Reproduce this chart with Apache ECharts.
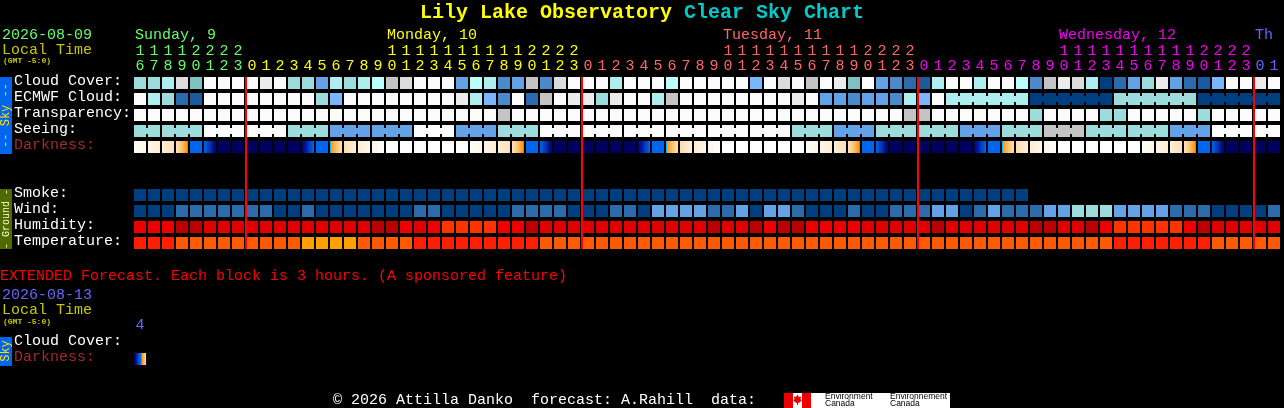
<!DOCTYPE html>
<html><head><meta charset="utf-8">
<style>html,body{margin:0;padding:0;background:#000;overflow:hidden}#main{width:1284px;height:408px}</style>
<script src="https://cdn.jsdelivr.net/npm/echarts@6/dist/echarts.min.js"></script>
</head><body><div id="main"></div>
<script>
/* ---------- data ---------- */
const rowNames = ['Cloud Cover:','ECMWF Cloud:','Transparency:','Seeing:','Darkness:','','','Smoke:','Wind:','Humidity:','Temperature:'];
const hours = [16,17,18,19,20,21,22,23,
  0,1,2,3,4,5,6,7,8,9,10,11,12,13,14,15,16,17,18,19,20,21,22,23,
  0,1,2,3,4,5,6,7,8,9,10,11,12,13,14,15,16,17,18,19,20,21,22,23,
  0,1,2,3,4,5,6,7,8,9,10,11,12,13,14,15,16,17,18,19,20,21,22,23,
  0,1];
const midnightCols = [8,32,56,80];
const cloudCover = [8,8,7,11,9,13,13,13,13,12,13,8,8,4,7,8,7,6,10,11,13,13,
  13,4,6,7,3,4,10,3,11,13,13,13,7,13,13,13,6,13,13,13,13,13,5,13,11,13,10,13,12,9,
  13,4,3,2,1,7,13,13,7,13,13,6,3,10,12,11,7,0,2,4,8,12,4,2,1,5,13,13,12,13];
const ecmwfCloud = [13,7,8,2,1,13,13,13,13,13,13,13,13,8,5,13,13,13,13,13,13,13,
  13,12,7,5,3,13,2,10,13,12,12,8,12,13,13,7,10,13,13,13,13,13,13,13,13,12,13,4,4,3,
  4,4,3,7,5,13,7,7,7,7,7,7,0,0,0,0,0,0,8,8,8,8,8,8,0,0,0,0,0,0];
const transparency = [13,13,13,13,13,13,13,13,13,13,13,13,13,13,13,13,13,13,13,13,13,13,
  13,13,13,13,10,13,13,13,13,13,13,13,13,13,13,13,13,13,13,13,13,13,13,13,13,13,13,13,13,13,
  13,13,13,10,10,13,13,13,13,13,13,13,8,13,13,13,13,8,8,13,13,13,13,13,8,13,13,13,13,13];
const seeing = [8,8,8,8,8,13,13,13,13,13,13,8,8,8,4,4,4,4,4,4,13,13,
  13,4,4,4,8,8,8,13,13,13,13,13,13,13,13,13,13,13,13,13,13,13,13,13,13,8,8,8,4,4,
  4,8,8,8,8,8,8,4,4,4,8,8,8,10,10,10,8,8,8,8,8,8,4,4,4,13,13,13,13,13];
const seeingBlockStarts = [0,2,5,8,11,14,17,20,23,26,29,32,35,38,41,44,47,50,53,56,59,62,65,68,71,74,77,80];
const ecmwfBlockStarts = [58,64,70,76];
const darkStart = [0.1,1,1.7,2.6,6,6,9,9,9,9,9,9,8.6,6,5.2,2.8,1.7,1,0,0,0,0,0,0,
  0.1,1,1.7,2.6,6,6,9,9,9,9,9,9,8.6,6,5.2,2.8,1.7,1,0,0,0,0,0,0,
  0.1,1,1.7,2.6,6,6,9,9,9,9,9,9,8.6,6,5.2,2.8,1.7,1,0,0,0,0,0,0,
  0.1,1,1.7,2.6,6,6,9,9,9,9];
const darkEnd = [1,1.7,2.6,5.2,6,8.6,9,9,9,9,9,9,6,6,2.8,1.7,1,0.1,0,0,0,0,0,0,
  1,1.7,2.6,5.2,6,8.6,9,9,9,9,9,9,6,6,2.8,1.7,1,0.1,0,0,0,0,0,0,
  1,1.7,2.6,5.2,6,8.6,9,9,9,9,9,9,6,6,2.8,1.7,1,0.1,0,0,0,0,0,0,
  1,1.7,2.6,5.2,6,8.6,9,9,9,9];
const smoke = [0,0,0,0,0,0,0,0,0,0,0,0,0,0,0,0,0,0,0,0,0,0,0,0,0,0,0,0,0,0,0,0,
  0,0,0,0,0,0,0,0,0,0,0,0,0,0,0,0,0,0,0,0,0,0,0,0,0,0,0,0,0,0,0,0];
const wind = [0,0,0,2,2,2,2,2,2,2,0,0,2,0,0,0,0,0,0,0,2,2,
  0,0,0,0,0,2,2,2,2,0,0,0,2,2,0,4,4,4,4,2,2,4,0,4,4,2,0,0,0,2,
  0,0,2,2,2,4,4,0,2,4,2,2,2,4,4,8,8,8,4,4,4,4,2,2,2,0,0,0,0,2];
const humidity = [2,2,2,0,0,1,1,1,1,1,1,1,1,1,1,1,1,0,0,2,1,2,
  3,3,3,3,2,2,0,1,1,1,1,1,1,1,1,1,1,1,1,0,1,1,0,2,0,0,2,2,2,2,
  1,1,1,1,1,0,1,1,1,1,1,1,0,0,1,1,0,2,3,3,3,3,3,2,0,1,1,1,1,1];
const temperature = [0,0,0,1,1,1,1,1,1,1,1,1,2,2,2,2,1,1,1,1,0,0,
  0,0,0,0,0,0,0,1,1,1,1,1,1,1,1,1,1,1,1,1,1,1,1,1,1,1,1,1,1,1,
  1,1,1,1,1,1,1,1,1,1,1,1,1,1,1,1,1,1,0,0,0,0,0,0,0,1,1,1,1,1];
const days = ['Sunday, 9','Monday, 10','Tuesday, 11','Wednesday, 12','Th'];
const dayLabelCols = [0,18,42,66,80];
const extHours = [4];
const extRowNames = ['Cloud Cover:','Darkness:'];
const extDarkStart = [9];
const extDarkEnd = [3];

/* ---------- scales ---------- */
const skyPalette = ['#003f7f','#1a5a9e','#2b6bab','#4b8bcb','#63a2e6','#79b6fb','#b9fdfd','#aeeeee','#9cdcdc','#80c0c0','#c4c4c4','#dcdcdc','#ececec','#fbfbfb'];
const humidityPalette = ['#bb0000','#e00000','#ee0000','#ff3300'];
const tempPalette = ['#ff1e00','#ff5a00','#ffa000'];
const darkScale = [[0,[255,255,255]],[1,[255,245,232]],[2,[255,234,205]],[3,[255,218,170]],[4,[255,190,100]],[4.9,[255,154,16]],
  [5,[0,208,255]],[5.5,[10,122,240]],[6,[0,102,238]],[7,[0,64,192]],[8,[0,16,144]],[9,[0,0,96]]];
function darkColor(v){
  for(let k=1;k<darkScale.length;k++){
    if(v<=darkScale[k][0]){
      const [a,ca]=darkScale[k-1],[b,cb]=darkScale[k],t=(v-a)/(b-a);
      return 'rgb('+ca.map((c,n)=>Math.round(c+(cb[n]-c)*t)).join(',')+')';
    }
  }
  return 'rgb(0,0,96)';
}

/* ---------- layout ---------- */
const MONO='"Liberation Mono"';
const GL=133, BAND=14, RH=16, CELL=12, BRIDGE=6;
function dayColor(i){ return i<8?'#66ff66':i<32?'#ffff00':i<56?'#ff6666':i<80?'#f000f0':'#6666ff'; }

function cellItem(params,api){
  const c=api.coord([api.value(0),api.value(1)]);
  const children=[{type:'rect',shape:{x:c[0]-CELL/2,y:c[1]-CELL/2,width:CELL,height:CELL},style:{fill:api.value(2)}}];
  if(api.value(4)===1) children.push({type:'rect',shape:{x:c[0]+CELL/2,y:c[1]-BRIDGE/2,width:BAND-CELL,height:BRIDGE},style:{fill:api.value(2)}});
  return {type:'group',children};
}
function linkedTo(starts,i,len){
  if(!starts.length||i<starts[0]||i+1>=len) return 0;
  return starts.includes(i+1)?0:1;
}
function rowSeries(values,row,palette,starts){
  return {type:'custom',xAxisIndex:0,yAxisIndex:0,silent:true,renderItem:cellItem,clip:false,
    data:values.map((v,i)=>[i,row,palette[v],0,starts?linkedTo(starts,i,values.length):0])};
}
function gradFor(a,b){
  const n=12,stops=[];
  for(let k=0;k<n;k++){
    const v=a+(b-a)*(k+0.5)/n, col=darkColor(v);
    stops.push({offset:k/n,color:col},{offset:(k+1)/n,color:col});
  }
  return {type:'linear',x:0,y:0,x2:1,y2:0,colorStops:stops};
}
function darkSeries(starts,ends,row,xi,yi){
  return {type:'custom',xAxisIndex:xi,yAxisIndex:yi,silent:true,clip:false,
    renderItem(params,api){
      const c=api.coord([api.value(0),api.value(1)]);
      return {type:'rect',shape:{x:c[0]-CELL/2,y:c[1]-CELL/2,width:CELL,height:CELL},
        style:{fill:gradFor(api.value(2),api.value(3))}};
    },
    data:starts.map((s,i)=>[i,row,s,ends[i]])};
}
const lineSeries={type:'custom',xAxisIndex:0,yAxisIndex:0,silent:true,clip:false,z:10,
  renderItem(params,api){
    const top=api.coord([api.value(0),0]), bot=api.coord([api.value(0),10]);
    return {type:'rect',shape:{x:top[0]-BAND/2,y:top[1]-CELL/2,width:2,height:bot[1]-top[1]+CELL},style:{fill:'#ff0000'}};
  },
  data:midnightCols.map(c=>[c])};

function T(x,y,text,fill,size,weight){
  return {type:'text',x,y,silent:true,style:{text,fill,font:(weight||'normal')+' '+size+'px '+MONO,align:'left',verticalAlign:'middle'}};
}
function V(cx,cy,text,fill,size){
  return {type:'text',x:cx,y:cy,rotation:Math.PI/2,silent:true,style:{text,fill,font:'normal '+size+'px '+MONO,align:'center',verticalAlign:'middle'}};
}
function R(x,y,w,h,fill){ return {type:'rect',silent:true,shape:{x,y,width:w,height:h},style:{fill}}; }

const graphics=[
  T(420,13,'Lily Lake Observatory','#ffff00',20,'bold'),
  T(684,13,'Clear Sky Chart','#00cccc',20,'bold'),
  T(2,35,'2026-08-09','#66ff66',15),
  T(2,50,'Local Time','#c8c800',15),
  T(3,61,'(GMT -5:0)','#c8c800',8,'bold'),
  R(0,77,12,77,'#0066ee'),
  V(6,115.5,'-- Sky --','#ffe000',12),
  R(0,189,12,60,'#4f6a00'),
  V(6,219,'- Ground -','#ffffcc',10),
  T(0,276,'EXTENDED Forecast. Each block is 3 hours. (A sponsored feature)','#ff0000',15),
  T(2,295,'2026-08-13','#6666ff',15),
  T(2,310,'Local Time','#c8c800',15),
  T(3,322,'(GMT -5:0)','#c8c800',8,'bold'),
  R(0,337,12,29,'#0066ee'),
  V(6,351,'Sky','#ffe000',12),
  T(333,400,'\u00a9 2026 Attilla Danko  forecast: A.Rahill  data:','#ffffff',15),
  R(784,393,166,15,'#ffffff'),
  R(784,393,9,15,'#ee0000'),
  R(802,393,9,15,'#ee0000'),
  {type:'polygon',silent:true,shape:{points:[[797.5,394.5],[799,397],[801,396.5],[800.5,399.5],[802,400],[799,403],[798,402.5],[798,405],[797,405],[797,402.5],[796,403],[793,400],[794.5,399.5],[794,396.5],[796,397]]},style:{fill:'#ee0000'}},
  {type:'text',silent:true,x:825,y:397,style:{text:'Environment',fill:'#000',font:'8.5px "Liberation Sans"',align:'left',verticalAlign:'middle'}},
  {type:'text',silent:true,x:825,y:404,style:{text:'Canada',fill:'#000',font:'8.5px "Liberation Sans"',align:'left',verticalAlign:'middle'}},
  {type:'text',silent:true,x:890,y:397,style:{text:'Environnement',fill:'#000',font:'8.5px "Liberation Sans"',align:'left',verticalAlign:'middle'}},
  {type:'text',silent:true,x:890,y:404,style:{text:'Canada',fill:'#000',font:'8.5px "Liberation Sans"',align:'left',verticalAlign:'middle'}}
];
days.forEach((d,n)=>graphics.push(T(GL+dayLabelCols[n]*BAND+2,35,d,dayColor(dayLabelCols[n]+(n===0?0:1)),15)));

const rowLabel={show:true,interval:0,align:'left',margin:119,fontFamily:MONO,fontSize:15,verticalAlign:'bottom',lineHeight:3,
  color:v=>v==='Darkness:'?'#a52a2a':'#ffffff'};
const option={
  backgroundColor:'#000',animation:false,
  grid:[{left:GL,top:75,width:82*BAND,height:11*RH},{left:GL,top:335,width:BAND,height:2*RH}],
  xAxis:[
    {type:'category',gridIndex:0,position:'top',data:hours.map((h,i)=>i),boundaryGap:true,
      axisLine:{show:false},axisTick:{show:false},splitLine:{show:false},
      axisLabel:{show:true,interval:0,margin:1,hideOverlap:false,fontFamily:MONO,fontSize:15,lineHeight:15,
        color:(v,i)=>dayColor(i),
        formatter:(v,i)=>{const h=hours[i];return (h>=10?Math.floor(h/10):' ')+'\n'+(h%10);}}},
    {type:'category',gridIndex:1,position:'top',data:extHours.map(String),
      axisLine:{show:false},axisTick:{show:false},splitLine:{show:false},
      axisLabel:{show:true,interval:0,margin:2,fontFamily:MONO,fontSize:15,lineHeight:15,color:'#6666ff'}}
  ],
  yAxis:[
    {type:'category',gridIndex:0,inverse:true,data:rowNames,
      axisLine:{show:false},axisTick:{show:false},splitLine:{show:false},axisLabel:rowLabel},
    {type:'category',gridIndex:1,inverse:true,data:extRowNames,
      axisLine:{show:false},axisTick:{show:false},splitLine:{show:false},axisLabel:rowLabel}
  ],
  series:[
    rowSeries(cloudCover,0,skyPalette),
    rowSeries(ecmwfCloud,1,skyPalette,ecmwfBlockStarts),
    rowSeries(transparency,2,skyPalette),
    rowSeries(seeing,3,skyPalette,seeingBlockStarts),
    darkSeries(darkStart,darkEnd,4,0,0),
    rowSeries(smoke,7,skyPalette),
    rowSeries(wind,8,skyPalette),
    rowSeries(humidity,9,humidityPalette),
    rowSeries(temperature,10,tempPalette),
    lineSeries,
    darkSeries(extDarkStart,extDarkEnd,1,1,1)
  ],
  graphic:graphics
};
const chart=echarts.init(document.getElementById('main'),null,{renderer:'canvas',width:1284,height:408});
chart.setOption(option);
</script></body></html>
